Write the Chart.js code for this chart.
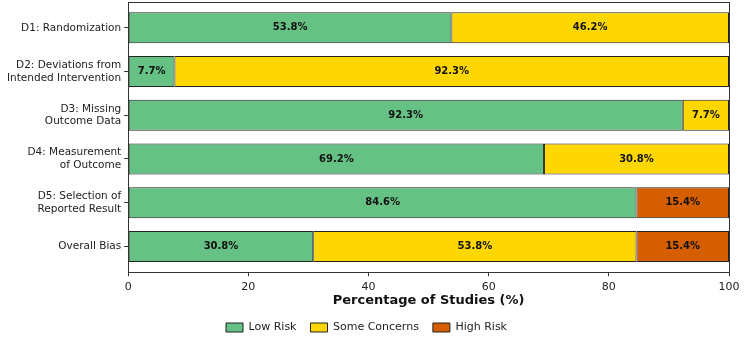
<!DOCTYPE html>
<html>
<head>
<meta charset="utf-8">
<script src="https://cdn.jsdelivr.net/npm/chart.js@4"></script>
<style>
  html, body { margin: 0; padding: 0; background: #fff; }
  #wrap { width: 750px; height: 351px; }
</style>
</head>
<body>
<div id="wrap"><canvas id="robChart"></canvas></div>
<script>
// Risk-of-bias domains
const domains = [
    'D1: Randomization',
    ['D2: Deviations from', 'Intended Intervention'],
    ['D3: Missing', 'Outcome Data'],
    ['D4: Measurement', 'of Outcome'],
    ['D5: Selection of', 'Reported Result'],
    'Overall Bias'
];

// Percentage of studies per judgement
const lowRisk = [53.8, 7.7, 92.3, 69.2, 84.6, 30.8];
const someConcerns = [46.2, 92.3, 7.7, 30.8, 0, 53.8];
const highRisk = [0, 0, 0, 0, 15.4, 15.4];

const xTicks = [0, 20, 40, 60, 80, 100];

const FONT = 'DejaVu Sans';

// bar rows sit on a linear axis so the outer margins can match matplotlib's
const toPoints = arr => arr.map((v, i) => ({ x: v, y: i }));

// Draws the value inside each bar segment
const segmentLabels = {
    id: 'segmentLabels',
    afterDatasetsDraw(chart) {
        const ctx = chart.ctx;
        ctx.save();
        ctx.font = 'bold 10px "' + FONT + '"';
        ctx.fillStyle = '#111';
        ctx.textAlign = 'center';
        ctx.textBaseline = 'middle';
        chart.data.datasets.forEach((ds, i) => {
            chart.getDatasetMeta(i).data.forEach((bar, j) => {
                const v = ds.data[j].x;
                if (!v) return;
                const x = (bar.x + bar.base) / 2;
                ctx.fillText(v.toFixed(1) + '%', x, bar.y);
            });
        });
        ctx.restore();
    }
};

// Box around the plot area, like matplotlib spines
const frame = {
    id: 'frame',
    afterDraw(chart) {
        const a = chart.chartArea;
        const ctx = chart.ctx;
        ctx.save();
        ctx.strokeStyle = '#333';
        ctx.lineWidth = 1;
        ctx.strokeRect(Math.round(a.left) + 0.5, Math.round(a.top) + 0.5,
            Math.round(a.right - a.left), Math.round(a.bottom - a.top));
        ctx.restore();
    }
};

function initChart() {
    const ctx = document.getElementById('robChart').getContext('2d');
    return new Chart(ctx, {
        type: 'bar',
        data: {
            datasets: [
                { label: 'Low Risk', data: toPoints(lowRisk), backgroundColor: '#66c184' },
                { label: 'Some Concerns', data: toPoints(someConcerns), backgroundColor: '#ffd700' },
                { label: 'High Risk', data: toPoints(highRisk), backgroundColor: '#d55e00' }
            ].map(d => Object.assign(d, {
                borderColor: '#222',
                borderWidth: 1,
                borderSkipped: false,
                barPercentage: 0.71,
                categoryPercentage: 1
            }))
        },
        options: {
            indexAxis: 'y',
            responsive: true,
            maintainAspectRatio: false,
            animation: false,
            layout: { padding: { top: 2, right: 21, bottom: 8, left: 4 } },
            scales: {
                x: {
                    stacked: true,
                    min: 0,
                    max: 100,
                    afterBuildTicks: axis => { axis.ticks = xTicks.map(v => ({ value: v })); },
                    grid: { drawOnChartArea: false, tickLength: 4, color: '#333' },
                    border: { display: false },
                    ticks: { color: '#222', font: { family: FONT, size: 11 }, padding: 4, maxRotation: 0 },
                    title: {
                        display: true,
                        text: 'Percentage of Studies (%)',
                        color: '#111',
                        font: { family: FONT, size: 13, weight: 'bold' },
                        padding: { top: -5, bottom: 0 }
                    }
                },
                y: {
                    type: 'linear',
                    stacked: true,
                    reverse: true,
                    offset: false,
                    min: -0.59,
                    max: domains.length - 1 + 0.59,
                    afterBuildTicks: axis => { axis.ticks = domains.map((d, i) => ({ value: i })); },
                    afterFit: s => { s.paddingTop = 0; s.paddingBottom = 0; },
                    grid: { drawOnChartArea: false, offset: false, tickLength: 4, color: '#333' },
                    border: { display: false },
                    ticks: {
                        color: '#222',
                        font: { family: FONT, size: 10.5 },
                        padding: 3,
                        callback: v => domains[v]
                    }
                }
            },
            plugins: {
                legend: {
                    position: 'bottom',
                    labels: {
                        color: '#222',
                        font: { family: FONT, size: 11 },
                        boxWidth: 17,
                        boxHeight: 9,
                        padding: 14
                    }
                },
                tooltip: { enabled: false }
            }
        },
        plugins: [segmentLabels, frame]
    });
}

document.addEventListener('DOMContentLoaded', initChart);
</script>
</body>
</html>
